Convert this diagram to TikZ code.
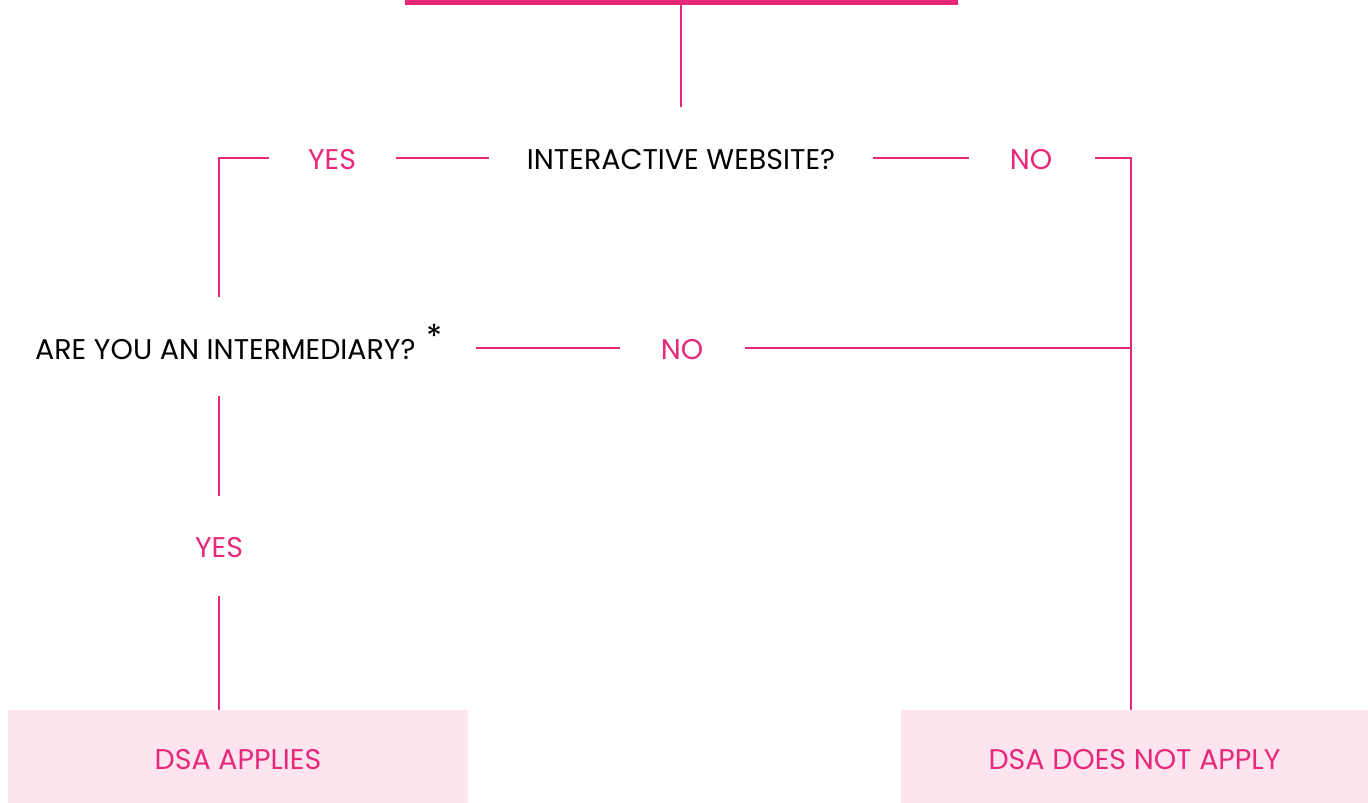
\documentclass[tikz,border=0pt]{standalone}
\usepackage{fontspec}
\setmainfont{Poppins}
\definecolor{dsapink}{HTML}{E8297A}
\definecolor{dsalight}{HTML}{FDE4EF}
\begin{document}
\begin{tikzpicture}[x=1pt,y=-1pt,
  conn/.style={draw=dsapink,line width=2.6pt},
  qtext/.style={font=\fontsize{28.5}{32}\selectfont,text=black,inner sep=0pt},
  atext/.style={font=\fontsize{28.5}{32}\selectfont,text=dsapink,inner sep=0pt},
  endbox/.style={fill=dsalight,draw=none,minimum height=93pt,inner sep=0pt}]
\useasboundingbox (0,0) rectangle (1368,803);
% top bar
\fill[dsapink] (405,0) rectangle (958,5);
\coordinate (top) at (681,5);
% first question
\node[qtext] (q1) at (681,159.5) {INTERACTIVE WEBSITE?};
\node[atext] (yes1) at (332,159.5) {YES};
\node[atext] (no1) at (1031,159.5) {NO};
\coordinate (q1top) at (681,107);
\draw[conn] (top) -- (q1top);
\coordinate (q1l) at (489,158);
\coordinate (q1r) at (873,158);
\coordinate (yes1r) at (396,158);
\coordinate (yes1l) at (269,158);
\coordinate (cornerL) at (219,158);
\coordinate (no1l) at (969,158);
\coordinate (no1r) at (1095,158);
\coordinate (cornerR) at (1131,158);
\draw[conn] (q1l) -- (yes1r);
\draw[conn] (yes1l) -- (cornerL) -- (219,297);
\draw[conn] (q1r) -- (no1l);
% second question
\node[qtext,anchor=west] (q2) at (35,349.5) {ARE YOU AN INTERMEDIARY?};
\node[qtext,anchor=base,font=\fontsize{33}{36}\selectfont] (ast) at (435,348) {*};
\node[atext] (no2) at (682,349.5) {NO};
\coordinate (q2r) at (476,348);
\coordinate (no2l) at (620,348);
\coordinate (no2r) at (745,348);
\coordinate (joinR) at (1131,348);
\draw[conn] (q2r) -- (no2l);
\draw[conn] (no2r) -- (joinR);
\node[atext] (yes2) at (219,548) {YES};
\draw[conn] (219,396) -- (219,496);
% end boxes
\node[endbox,minimum width=460pt] (applies) at (238,756.5) {};
\node[endbox,minimum width=467pt] (notapply) at (1134.5,756.5) {};
\node[atext] (appliesT) at ([yshift=-3.5pt]applies.center) {DSA APPLIES};
\node[atext] (notapplyT) at ([yshift=-3.5pt]notapply.center) {DSA DOES NOT APPLY};
\draw[conn] (219,596) -- (applies.north -| 219,0);
\draw[conn] (no1r) -- (cornerR) -- (notapply.north -| cornerR);
\end{tikzpicture}
\end{document}
